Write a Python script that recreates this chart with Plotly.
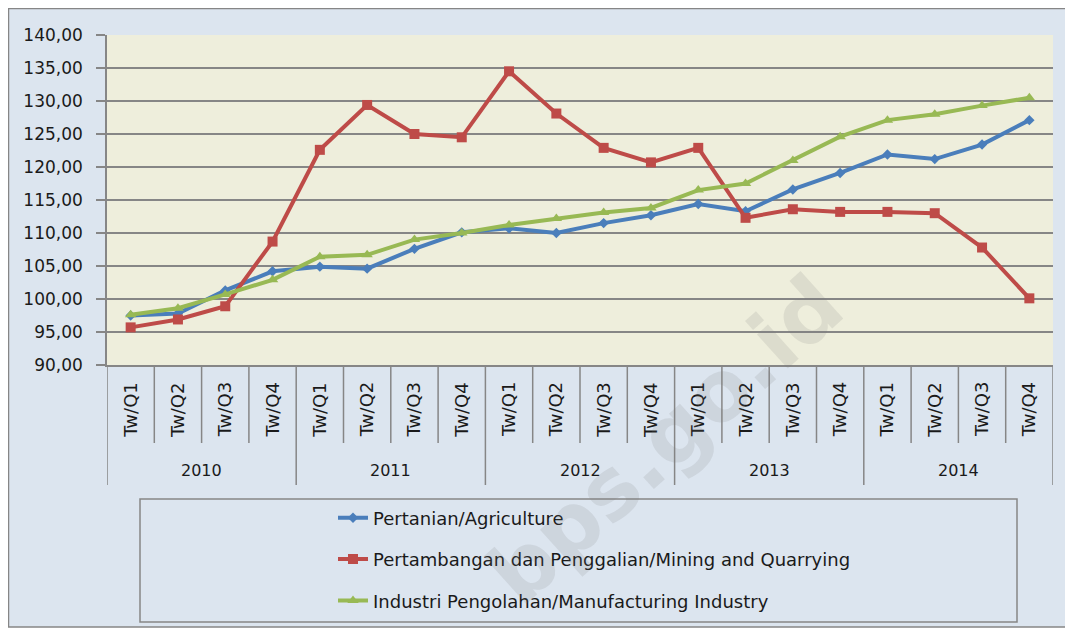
import plotly.graph_objects as go

# DADOS
anos = ['2010', '2011', '2012', '2013', '2014']
triwulan = ['Tw/Q1', 'Tw/Q2', 'Tw/Q3', 'Tw/Q4']

pertanian = [97.5, 97.8, 101.3, 104.2, 104.9, 104.6, 107.6, 110.1, 110.7, 110.0,
             111.5, 112.7, 114.4, 113.3, 116.6, 119.1, 121.9, 121.2, 123.4, 127.1]
pertambangan = [95.7, 96.9, 98.9, 108.7, 122.6, 129.4, 125.0, 124.5, 134.5, 128.1,
                122.9, 120.7, 122.9, 112.3, 113.6, 113.2, 113.2, 113.0, 107.8, 100.1]
industri = [97.6, 98.6, 100.7, 102.9, 106.4, 106.7, 109.0, 110.0, 111.2, 112.2,
            113.1, 113.8, 116.5, 117.5, 121.0, 124.6, 127.1, 128.0, 129.3, 130.5]

nomes = ['Pertanian/Agriculture',
         'Pertambangan dan Penggalian/Mining and Quarrying',
         'Industri Pengolahan/Manufacturing Industry']

cores = ['#4a7ebb', '#be4b48', '#98b954']
simbolos = ['diamond', 'square', 'triangle-up']
tamanhos = [8, 10, 10]

FONTE = 'DejaVu Sans'
CINZA = '#868686'
TEXTO = '#1a1a1a'

x = list(range(len(anos) * len(triwulan)))

fig = go.Figure()

for i, serie in enumerate([pertanian, pertambangan, industri]):
    fig.add_trace(go.Scatter(x=x, y=serie, name=nomes[i],
                             mode='lines+markers',
                             legendgroup=str(i),
                             line=dict(color=cores[i], width=4),
                             marker=dict(symbol=simbolos[i], size=tamanhos[i],
                                         color=cores[i])))

# A PAGINA TEM MARGEM DE 8px NO BODY: AS POSICOES ABAIXO SAO EM PIXELS DA TELA
# E CONVERTIDAS PARA COORDENADAS DE PAPEL (AREA DO GRAFICO: x 107-1053, y 35-365)
def px_x(p):
    return (p - 107) / 946

def px_y(p):
    return (365 - p) / 330

shapes = [
    dict(type='rect', xref='paper', yref='paper', layer='below',
         x0=px_x(8.5), x1=px_x(1068), y0=px_y(627), y1=px_y(8.5),
         fillcolor='#dce5ef', line=dict(color=CINZA, width=1.5)),
    dict(type='rect', xref='paper', yref='paper', layer='below',
         x0=0, x1=1, y0=0, y1=1, fillcolor='#eeeedc', line=dict(width=0)),
    dict(type='rect', xref='paper', yref='paper', layer='below',
         x0=px_x(140), x1=px_x(1017), y0=px_y(622), y1=px_y(499),
         fillcolor='rgba(0,0,0,0)', line=dict(color=CINZA, width=1.5)),
]

# DIVISORES DO EIXO X (TRIMESTRES E ANOS)
n = len(x)
for k in range(n + 1):
    ano_limite = k % len(triwulan) == 0
    shapes.append(dict(type='line', xref='x', yref='paper',
                       x0=k - 0.5, x1=k - 0.5,
                       y0=0, y1=px_y(485) if ano_limite else px_y(443),
                       line=dict(color=CINZA, width=1.5)))

annotations = []
for k in x:
    annotations.append(dict(x=k, y=px_y(410), xref='x', yref='paper',
                            xanchor='center', yanchor='middle',
                            text=triwulan[k % len(triwulan)], textangle=-90,
                            showarrow=False, font=dict(family=FONTE, size=18, color=TEXTO)))
for j, a in enumerate(anos):
    annotations.append(dict(x=j * len(triwulan) + 1.5, y=px_y(470), xref='x', yref='paper',
                            xanchor='center', yanchor='middle',
                            text=a, showarrow=False,
                            font=dict(family=FONTE, size=16, color=TEXTO)))

# MARCA D'AGUA
annotations.append(dict(x=px_x(665), y=px_y(440), xref='paper', yref='paper',
                        xanchor='center', yanchor='middle',
                        text='<b>bps.go.id</b>', textangle=-42, showarrow=False,
                        font=dict(family=FONTE, size=84, color='rgba(120,120,120,0.15)')))

fig.update_layout(
    width=1065, height=623,
    margin=dict(l=99, r=20, t=27, b=266, autoexpand=False),
    paper_bgcolor='white',
    plot_bgcolor='#eeeedc',
    separators=', ',
    font=dict(family=FONTE, size=17, color=TEXTO),
    shapes=shapes,
    annotations=annotations,
    showlegend=True,
    legend=dict(x=px_x(333), y=px_y(499.5), xanchor='left', yanchor='top',
                bgcolor='rgba(0,0,0,0)', tracegroupgap=15,
                font=dict(family=FONTE, size=18, color=TEXTO)),
    xaxis=dict(range=[-0.5, n - 0.5], showticklabels=False, showgrid=False,
               zeroline=False, showline=True, linecolor=CINZA, linewidth=1.5),
    yaxis=dict(range=[90, 140], dtick=5, tickformat='.2f',
               showgrid=True, gridcolor=CINZA, gridwidth=1.5, zeroline=False,
               showline=True, linecolor=CINZA, linewidth=1.5,
               ticks='outside', ticklen=9, tickcolor=CINZA, tickwidth=1.5,
               ticklabelstandoff=10,
               tickfont=dict(family=FONTE, size=17, color=TEXTO)),
)

fig.write_html('out.html')
